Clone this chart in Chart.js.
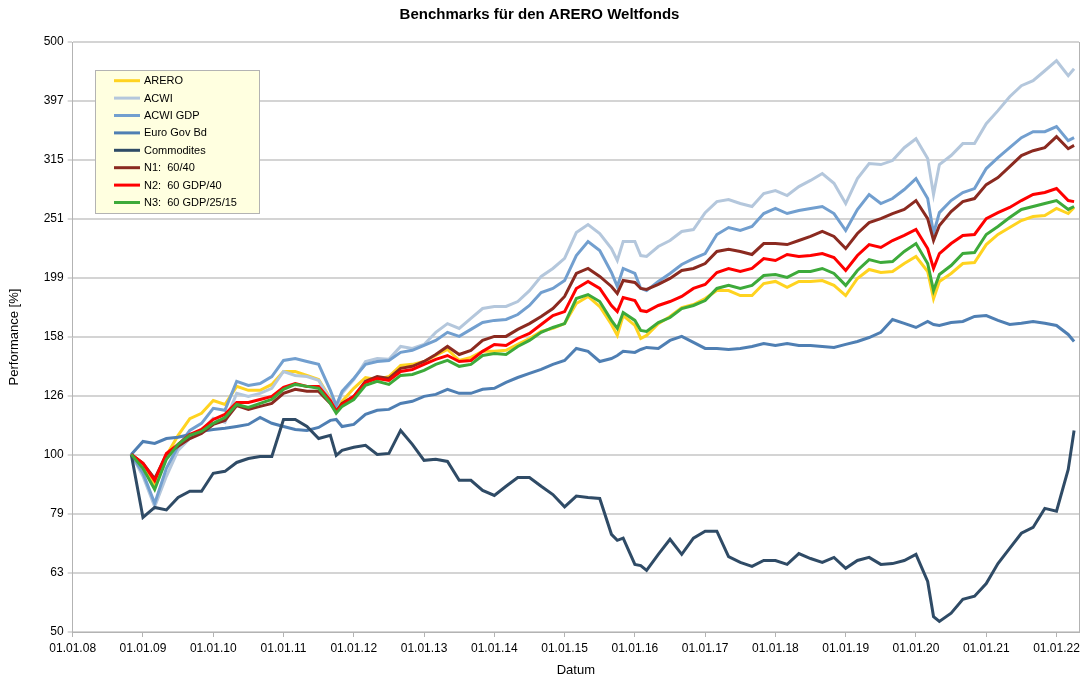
<!DOCTYPE html>
<html>
<head>
<meta charset="utf-8">
<script src="https://cdn.jsdelivr.net/npm/chart.js@4.4.0/dist/chart.umd.min.js"></script>
<style>
  html, body { margin: 0; padding: 0; background: #fff; }
  #wrap { width: 1086px; height: 685px; }
</style>
</head>
<body>
<div id="wrap"><canvas id="chart" width="1086" height="685"></canvas></div>
<script>
'use strict';

// month of each reading (YYYY-MM)
const dates = [
  '2008-11',
  '2009-01','2009-03','2009-05','2009-07','2009-09','2009-11',
  '2010-01','2010-03','2010-05','2010-07','2010-09','2010-11',
  '2011-01','2011-03','2011-05','2011-07','2011-09','2011-10','2011-11',
  '2012-01','2012-03','2012-05','2012-07','2012-09','2012-11',
  '2013-01','2013-03','2013-05','2013-07','2013-09','2013-11',
  '2014-01','2014-03','2014-05','2014-07','2014-09','2014-11',
  '2015-01','2015-03','2015-05','2015-07','2015-09','2015-10','2015-11',
  '2016-01','2016-02','2016-03','2016-05','2016-07','2016-09','2016-11',
  '2017-01','2017-03','2017-05','2017-07','2017-09','2017-11',
  '2018-01','2018-03','2018-05','2018-07','2018-09','2018-11',
  '2019-01','2019-03','2019-05','2019-07','2019-09','2019-11',
  '2020-01','2020-03','2020-04','2020-05','2020-07','2020-09','2020-11',
  '2021-01','2021-03','2021-05','2021-07','2021-09','2021-11',
  '2022-01','2022-03','2022-04'
];

const arero = [100,95.4,88.5,99.6,107.7,115,117.4,123.4,121.5,130.4,128.4,128.4,131.4,138.2,138.2,136.1,133.9,124.4,120.6,123,
  129.4,135,133.9,135.5,141.5,142.1,143.7,147.1,150.6,144.3,146,149.5,149.5,150.1,153.6,157.2,161.6,163.5,166.6,180.2,
  185.2,178.1,166,159.1,171.9,165.4,157.2,159.1,166.6,171.3,177.4,179.5,183.7,189.5,189.5,185.9,185.9,194.8,196.4,191.9,
  196.4,196.4,197.1,193.4,185.9,198.7,205.8,203.4,204.2,210.6,216.5,204.2,183.7,196.4,202.6,210.6,211.4,226.8,235.9,242.4,
  249.1,253,254,261.1,256,262.1];

const acwi = [100,91.8,81.6,91.8,101.6,106.4,109.4,115.1,113.3,126.9,125.4,126.9,129.4,138.2,136.1,135.5,133.5,123.9,119.7,126.9,
  133.9,143.7,145.4,144.9,152.4,151.2,153.6,161,166.6,163.5,170,176.7,178.1,178.1,181.6,189.5,200.3,206.6,214.9,237.7,
  245.2,236.8,223.3,213.1,229.5,229.5,217.3,216.5,225.1,230.4,238.7,240.5,256.9,268.2,270.3,266.2,263.1,276.8,280,274.6,
  284.4,291.3,299.2,288,266.2,293.4,311.1,309.9,314.8,331,342.8,317.3,275.7,309.9,321,336.3,336.3,363.6,382.5,403.9,
  421.6,430,446.9,464.8,438.5,450.5];

const acwiGdp = [100,92.9,82.6,94.7,103.2,109.8,112.9,119.7,118.8,133,130.9,131.9,135.5,144.3,145.4,143.7,142.1,128.4,121,127.9,
  134.5,142.1,143.7,144.3,148.9,150.1,153,156,161,158.5,162.9,167.3,168.7,169.3,172.6,178.8,188.1,191.1,197.1,217.3,
  229.5,221.6,203.4,192.6,206.6,202.6,191.1,189.5,196.4,202.6,209.8,214.7,219,235.9,242.4,239.6,243.4,256,261.1,256,
  259,261.1,263.1,256,239.6,260.1,275.7,266.2,271.4,281.1,293.4,271.4,236.8,256.9,269.3,277.9,282.2,305.1,318.4,331,
  344.2,352.4,352.4,359.4,340.2,344.2];

const euroGovBd = [100,105.2,104.4,106.4,106.9,108.1,109.4,110.2,110.7,111.5,112.4,115.5,112.9,111.5,110.2,109.8,111.1,114.2,114.6,111.5,
  112.4,116.9,118.8,119.2,122,123,125.4,126.4,128.9,126.9,126.9,128.9,129.4,132.4,135,137.2,139.3,142.1,144.3,151.2,
  149.5,143.7,145.4,147.1,149.5,148.9,150.6,151.8,151.2,156,158.5,154.8,151.2,151.2,150.6,151.2,152.4,154.2,153,154.2,
  153,153,152.4,151.8,153.6,155.4,157.8,161,169.3,166.8,164.1,168,166,165.4,167.3,168,171.3,171.9,168.7,166,
  166.8,168,166.8,165.4,159.7,155.4];

const commodities = [100,78.2,81.3,80.5,84.5,86.6,86.6,92.9,93.6,96.9,98.4,99.2,99.2,114.6,114.6,111.5,106.4,107.7,99.6,101.6,
  102.8,103.6,100,100.4,109.8,104,97.7,98.1,97.3,90.4,90.4,86.9,85.2,88.3,91.4,91.4,88.3,85.5,81.5,85,
  84.5,84.2,73.2,71.5,72.1,65.1,64.8,63.6,67.7,71.8,67.7,72.1,74.1,74.1,67.1,65.6,64.6,66.1,66.1,65.1,
  67.9,66.6,65.6,66.9,64.1,66.1,66.9,65.1,65.3,66.1,67.7,60.9,53.1,52.1,53.8,56.8,57.5,60.4,65.3,69.3,
  73.5,75.2,81,80.1,94.3,109.8];

const n1 = [100,96.6,91,100,103.2,106.4,108.5,112.4,114.2,121,119.2,120.6,122,126.9,128.9,127.9,127.9,122,118.3,122,
  125.4,133,135.5,134.5,139.9,141,143.7,147.7,152.4,147.7,150.1,156,158.5,158.5,162.9,166.6,171.3,176.7,185.2,202.6,
  206.6,200.3,192.6,187.4,197.1,195.6,191.1,190.4,194.1,198.7,205,206.6,210.6,220.8,222.6,220.8,218.2,227.7,227.7,226.8,
  230.4,234.1,238.7,234.1,223.3,236.8,247.1,251,256,260.1,269.3,251,230.4,244.3,258,268.2,271.4,286.6,294.6,307.4,
  320.9,327.1,331,345.6,329.7,334];

const n2 = [100,96.6,90.3,100.4,104,108.1,110.2,114.6,116.9,122.5,122.5,123.9,125.4,129.9,131.9,130.4,130.4,123.4,118.3,121.5,
  125.4,132.4,134.5,133.5,138.2,139.3,142.1,144.9,147.1,143.7,144.3,149.5,153.6,153,157.2,160.3,166,171.9,174.6,191.1,
  196.4,191.1,178.8,174.6,184.5,182.3,175.3,174.6,178.8,181.6,185.2,191.1,194.1,203.4,206.6,204.2,206.6,214.7,213.1,218.2,
  216.5,217.3,219,215.6,205,217.3,226.8,224.2,230.4,235,240.5,223.3,206.6,219,227.7,235,235.9,251,256.9,262.1,
  269.3,275.7,277.9,282.2,269.3,268.2];

const n3 = [100,94.7,87.2,98.1,104,107.7,109.4,112.9,115.5,121.5,120.1,122,123.9,128.9,131.4,130.4,129.4,122,117.4,120.6,
  123.9,130.9,133,131.4,136.1,136.6,138.8,142.1,144.3,141,142.1,147.1,148.3,147.7,152.4,156,161,164.1,166.6,183.7,
  186.6,181.6,168.7,163.5,174,168.7,162.2,161.6,167.3,170.6,176.7,178.8,182.3,191.1,193.4,191.1,193.4,201,201.8,199.5,
  204.2,204.2,206.6,202.6,193.4,205,213.9,211.4,212.2,220.8,227.7,210.6,189.5,201.8,209,219,219.9,235.9,243.4,252,
  260.1,263.1,266.2,269.3,260.1,263.1];

const seriesNames = ['ARERO', 'ACWI', 'ACWI GDP', 'Euro Gov Bd', 'Commodites', 'N1:  60/40', 'N2:  60 GDP/40', 'N3:  60 GDP/25/15'];
const seriesValues = [arero, acwi, acwiGdp, euroGovBd, commodities, n1, n2, n3];
const seriesColors = ['#ffd320', '#b4c7dc', '#729fcf', '#4f7fb3', '#2f4b66', '#8b2a20', '#ff0000', '#3daa3a'];

const xYears = [2008, 2009, 2010, 2011, 2012, 2013, 2014, 2015, 2016, 2017, 2018, 2019, 2020, 2021, 2022];
const yTickLabels = ['50', '63', '79', '100', '126', '158', '199', '251', '315', '397', '500'];

const FONT = '"Liberation Sans", Arial, sans-serif';
Chart.defaults.font.family = FONT;
Chart.defaults.color = '#000';

function toYear(s) {
  const p = s.split('-');
  return Number(p[0]) + (Number(p[1]) - 1) / 12;
}

// legend box inside the plot and the right frame line
const legendBox = {
  id: 'legendBox',
  afterDraw(chart) {
    const ctx = chart.ctx;
    const area = chart.chartArea;
    ctx.save();
    ctx.strokeStyle = '#b3b3b3';
    ctx.lineWidth = 1;
    ctx.beginPath();
    ctx.moveTo(Math.round(area.right) + 0.5, area.top);
    ctx.lineTo(Math.round(area.right) + 0.5, area.bottom);
    ctx.stroke();

    ctx.fillStyle = '#ffffe0';
    ctx.fillRect(95.5, 70.5, 164, 143);
    ctx.strokeRect(95.5, 70.5, 164, 143);
    ctx.font = '11px ' + FONT;
    ctx.textBaseline = 'middle';
    chart.data.datasets.forEach((ds, i) => {
      const y = 80.7 + i * 17.4;
      ctx.strokeStyle = ds.borderColor;
      ctx.lineWidth = 3;
      ctx.beginPath();
      ctx.moveTo(114, y);
      ctx.lineTo(140, y);
      ctx.stroke();
      ctx.fillStyle = '#000';
      ctx.fillText(ds.label, 144, y + 0.5);
    });
    ctx.restore();
  }
};

const ctx = document.getElementById('chart').getContext('2d');
new Chart(ctx, {
  type: 'line',
  data: {
    datasets: seriesNames.map((name, i) => ({
      label: name,
      data: dates.map((d, j) => ({ x: toYear(d), y: seriesValues[i][j] })),
      borderColor: seriesColors[i],
      backgroundColor: seriesColors[i],
      borderWidth: 3,
      pointRadius: 0,
      tension: 0,
      fill: false,
      order: seriesNames.length - i
    }))
  },
  options: {
    responsive: false,
    animation: false,
    devicePixelRatio: 1,
    layout: { padding: { left: 0, right: 7, top: 0, bottom: 0 } },
    plugins: {
      legend: { display: false },
      tooltip: { enabled: false },
      title: {
        display: true,
        text: 'Benchmarks für den ARERO Weltfonds',
        font: { size: 15, weight: 'bold', family: FONT },
        color: '#000',
        padding: { top: 6, bottom: 18 }
      }
    },
    scales: {
      x: {
        type: 'linear',
        min: 2008,
        max: 2022.32,
        afterBuildTicks: s => { s.ticks = xYears.map(v => ({ value: v })); },
        afterFit: s => { s.height = 53; },
        ticks: {
          callback: v => '01.01.' + String(v).slice(2),
          font: { size: 12 },
          color: '#000',
          maxRotation: 0,
          autoSkip: false,
          padding: 4
        },
        grid: { drawOnChartArea: false, drawTicks: true, tickLength: 5, tickColor: '#b3b3b3' },
        border: { color: '#b3b3b3', width: 1 },
        title: { display: true, text: 'Datum', font: { size: 13 }, color: '#000', padding: { top: 0, bottom: 7 } }
      },
      y: {
        type: 'logarithmic',
        min: 50,
        max: 500,
        afterBuildTicks: s => { s.ticks = yTickLabels.map((t, k) => ({ value: 50 * Math.pow(10, k / 10) })); },
        afterFit: s => { s.width = 72.7; },
        ticks: {
          callback: (v, i) => yTickLabels[i],
          font: { size: 12 },
          color: '#000',
          padding: 4
        },
        grid: { color: '#d4d4d4', lineWidth: 2, tickLength: 5, tickColor: '#b3b3b3', tickWidth: 1 },
        border: { color: '#b3b3b3', width: 1 },
        title: { display: true, text: 'Performance [%]', font: { size: 13 }, color: '#000', padding: { top: 7, bottom: 0 } }
      }
    }
  },
  plugins: [legendBox]
});
</script>
</body>
</html>
